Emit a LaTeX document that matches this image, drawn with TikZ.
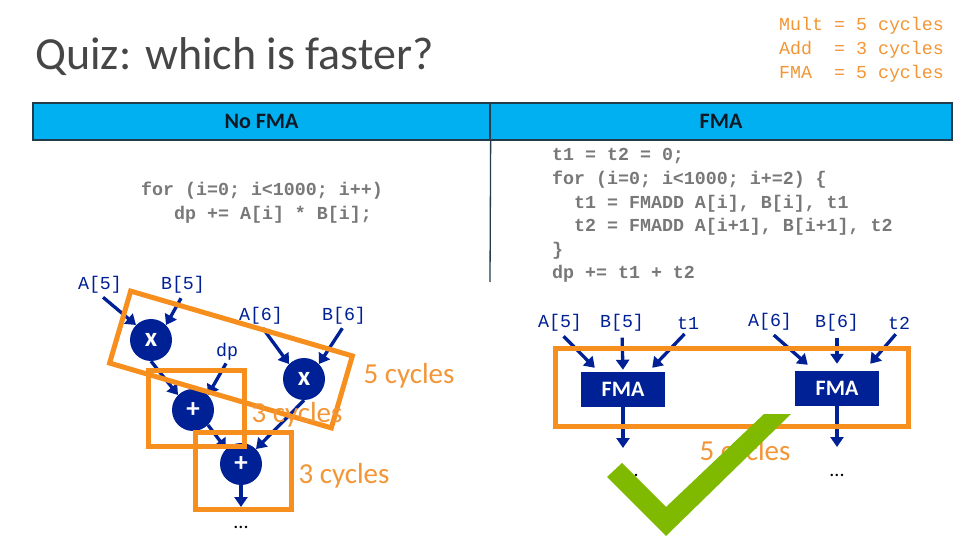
\documentclass[tikz,border=0pt]{standalone}
\usepackage{fontspec}
\setmainfont{Carlito}
\newfontfamily\codefont{Liberation Mono}
\usetikzlibrary{arrows.meta}
\definecolor{navy}{RGB}{0,32,150}
\definecolor{hdr}{RGB}{0,176,240}
\definecolor{hdrline}{RGB}{35,60,75}
\definecolor{orng}{RGB}{247,143,30}
\definecolor{orngtxt}{RGB}{242,150,55}
\definecolor{codegray}{RGB}{120,120,120}
\definecolor{titlegray}{RGB}{70,70,70}
\definecolor{chk}{RGB}{127,186,0}
\begin{document}
\begin{tikzpicture}[x=1bp,y=-1bp,
  code/.style={anchor=base west, inner sep=0, font=\codefont\bfseries\fontsize{18.3bp}{20bp}\selectfont, text=codegray},
  tbl/.style={anchor=base west, inner sep=0, font=\codefont\fontsize{18.3bp}{20bp}\selectfont, text=orngtxt},
  lbl/.style={inner sep=1bp, font=\codefont\fontsize{18.3bp}{20bp}\selectfont, text=navy},
  op/.style={circle, fill=navy, minimum size=42bp, inner sep=0, text=white, font=\bfseries\fontsize{27bp}{28bp}\selectfont},
  fmabox/.style={fill=navy, minimum width=84bp, minimum height=35bp, inner sep=0, text=white, font=\bfseries\fontsize{22bp}{24bp}\selectfont},
  arr/.style={draw=navy, line width=3.3bp, -{Triangle[width=13bp,length=10bp]}},
  obox/.style={draw=orng, line width=5bp, inner sep=0},
  cyc/.style={anchor=base, text=orngtxt, font=\fontsize{29bp}{32bp}\selectfont, inner sep=0},
  dots/.style={font=\fontsize{20bp}{22bp}\selectfont, inner sep=0},
  hcell/.style={draw=hdrline, fill=hdr, line width=1.3bp, minimum height=37bp, inner sep=0, text={rgb,255:red,15;green,25;blue,35}, font=\bfseries\fontsize{22bp}{24bp}\selectfont},
]
\useasboundingbox (0,0) rectangle (979,551);
\fill[white] (0,0) rectangle (979,551);

% title
\node[anchor=base west, inner sep=0, text=titlegray, font=\fontsize{46bp}{50bp}\selectfont] (title) at (35,70) {Quiz: which is faster?};

% latency table
\node[tbl] (t1) at (779,31) {Mult = 5 cycles};
\node[tbl] (t2) at (779,55) {Add~~= 3 cycles};
\node[tbl] (t3) at (779,79) {FMA~~= 5 cycles};

% header
\node[hcell, minimum width=457bp] (hno) at (261.5,121.5) {No FMA};
\node[hcell, minimum width=462bp] (hfma) at (721,121.5) {FMA};
\draw[hdrline, line width=1.3bp] (hno.south east) -- (490,282);

% code
\node[code] (lc1) at (141,196) {for (i=0; i<1000; i++)};
\node[code] (lc2) at (174,220) {dp += A[i] * B[i];};
\node[code] (rc1) at (552,161) {t1 = t2 = 0;};
\node[code] (rc2) at (552,185) {for (i=0; i<1000; i+=2) \{};
\node[code] (rc3) at (574,209) {t1 = FMADD A[i], B[i], t1};
\node[code] (rc4) at (574,232) {t2 = FMADD A[i+1], B[i+1], t2};
\node[code] (rc5) at (552,256) {\}};
\node[code] (rc6) at (552,279) {dp += t1 + t2};

% left dataflow
\node[lbl] (a5) at (100,285) {A[5]};
\node[lbl] (b5) at (183,285) {B[5]};
\node[op] (x1) at (151,340) {x};
\node[lbl] (a6) at (261,316) {A[6]};
\node[lbl] (b6) at (344,316) {B[6]};
\node[op] (x2) at (304,379) {x};
\node[lbl] (dp) at (227,352) {dp};
\node[op] (p1) at (193,410) {+};
\node[op] (p2) at (241,464) {+};
\coordinate (e1) at (241,507);
\node[dots] (dots1) at (241,527) {...};

\draw[arr, shorten <=4bp] (a5.south) -- (x1.north west);
\draw[arr, shorten <=4bp] (b5.south) -- (x1.north east);
\draw[arr] (x1.south) -- (p1.north west);
\draw[arr, shorten <=2bp] (dp.south) -- (p1.north east);
\draw[arr, shorten <=3bp] (a6.south) -- (x2.north west);
\draw[arr, shorten <=3bp] (b6.south) -- (x2.north east);
\draw[arr] (x2.south) -- (p2.north east);
\draw[arr] (p1.south east) -- (p2.north west);
\draw[arr] (p2.south) -- (e1);

% orange boxes left
\node[obox, rotate=-16.3, minimum width=231bp, minimum height=75bp] (r1) at (231,359.5) {};
\node[obox, minimum width=96bp, minimum height=75bp] (r2) at (196,408.5) {};
\node[obox, minimum width=96bp, minimum height=77bp] (r3) at (243,470.5) {};
\node[cyc] (c5l) at (409,384) {5 cycles};
\node[cyc] (c3a) at (297,422) {3 cycles};
\node[cyc] (c3b) at (344,483) {3 cycles};

% right dataflow
\node[lbl] (ra5) at (560,323) {A[5]};
\node[lbl] (rb5) at (622,323) {B[5]};
\node[lbl] (rt1) at (688,323) {t1};
\node[lbl] (ra6) at (770,322) {A[6]};
\node[lbl] (rb6) at (837,323) {B[6]};
\node[lbl] (rt2) at (899,323) {t2};
\node[fmabox] (f1) at (623,389.5) {FMA};
\node[fmabox] (f2) at (837,388.5) {FMA};
\coordinate (e2) at (623,448);
\coordinate (e3) at (837,447);
\node[dots] (dots2) at (631,475) {...};
\node[dots] (dots3) at (837,475) {...};

\draw[arr, shorten <=5bp] (ra5.south) -- ([xshift=14bp,yshift=4bp]f1.north west);
\draw[arr, shorten <=5bp, shorten >=2bp] (rb5.south) -- (f1.north);
\draw[arr, shorten <=5bp] (rt1.south) -- ([xshift=-13bp,yshift=4bp]f1.north east);
\draw[arr, shorten <=5bp] (ra6.south) -- ([xshift=13bp,yshift=6bp]f2.north west);
\draw[arr, shorten <=5bp, shorten >=7bp] (rb6.south) -- (f2.north);
\draw[arr, shorten <=5bp] (rt2.south) -- ([xshift=-9bp,yshift=7bp]f2.north east);
\draw[arr] (f1.south) -- (e2);
\draw[arr] (f2.south) -- (e3);

\node[obox, minimum width=353bp, minimum height=77bp] (r4) at (731.5,387.5) {};
\node[cyc] (c5r) at (745,460) {5 cycles};

% check mark
\fill[chk] (607,477) -- (622,463) -- (666,507) -- (764,414) -- (791,414) -- (666,536) -- cycle;
\end{tikzpicture}
\end{document}
